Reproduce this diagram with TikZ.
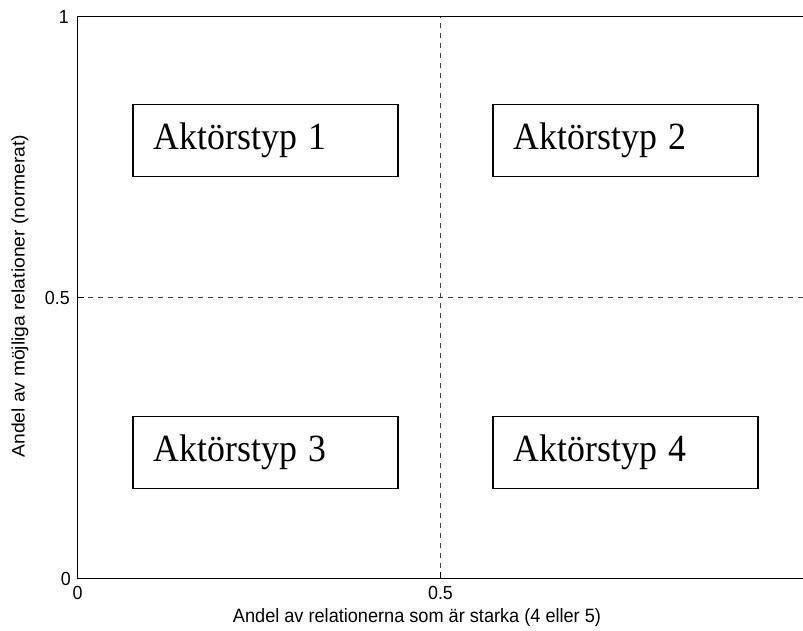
\documentclass[tikz,border=0pt]{standalone}
\usepackage{fontspec}
\usepackage{graphicx}
\setmainfont{Liberation Serif}
\setsansfont{Liberation Sans}
\begin{document}
\begin{tikzpicture}[x=1pt,y=1pt,
  axisline/.style={line width=1pt, black},
  gridline/.style={line width=0.9pt, black!75, dash pattern=on 5pt off 5pt},
  ticklabel/.style={font=\sffamily\fontsize{19}{19}\selectfont, inner sep=0pt},
  axislabel/.style={font=\sffamily\fontsize{19.3}{19.3}\selectfont, inner sep=0pt},
  typebox/.style={draw, line width=1.5pt, anchor=north west,
    minimum width=265pt, minimum height=72pt, inner xsep=21pt, inner ysep=0pt,
    text width=223pt, align=left,
    font=\fontsize{38.5}{38.5}\selectfont}
]
\useasboundingbox (0,0) rectangle (803,631);

% plot corners (y measured upward from the bottom edge)
\coordinate (o)  at (77.5,52.5);
\coordinate (tl) at (77.5,614.5);
\coordinate (tr) at (803.5,614.5);
\coordinate (br) at (803.5,52.5);
\coordinate (xm) at (440.5,52.5);
\coordinate (xmt) at (440.5,614.5);
\coordinate (ym) at (77.5,333.5);
\coordinate (ymr) at (803.5,333.5);

% dashed divisions at 0.5
\draw[gridline] (xm) -- (xmt);
\draw[gridline] (ym) -- (ymr);

% axes
\draw[axisline] (br) -- (o) -- (tl) -- (tr);
\draw[axisline] (xm) -- ++(0,6);
\draw[axisline] (ym) -- ++(6,0);

% tick labels
\node[ticklabel, anchor=east] (y1) at (69,614.5) {\scalebox{0.94}[1]{1}};
\node[ticklabel, anchor=east] (y05) at (70,333.5) {\scalebox{0.94}[1]{0.5}};
\node[ticklabel, anchor=east] (y0) at (71,52.5) {\scalebox{0.94}[1]{0}};
\node[ticklabel, anchor=north] (x0) at (77.5,45) {\scalebox{0.94}[1]{0}};
\node[ticklabel, anchor=north] (x05) at (440.5,45) {\scalebox{0.94}[1]{0.5}};

% axis titles
\node[axislabel, anchor=base] (xlab) at (417,8.5)
  {\scalebox{0.94}[1]{Andel av relationerna som är starka (4 eller 5)}};
\node[axislabel, rotate=90, anchor=base] (ylab) at (24.5,335)
  {\scalebox{1}[0.94]{Andel av möjliga relationer (normerat)}};

% actor type boxes
\node[typebox] (a1) at (132,527) {\scalebox{0.93}[1]{Aktörstyp 1}};
\node[typebox] (a2) at (492,527) {\scalebox{0.93}[1]{Aktörstyp 2}};
\node[typebox] (a3) at (132,215) {\scalebox{0.93}[1]{Aktörstyp 3}};
\node[typebox] (a4) at (492,215) {\scalebox{0.93}[1]{Aktörstyp 4}};
\end{tikzpicture}
\end{document}
